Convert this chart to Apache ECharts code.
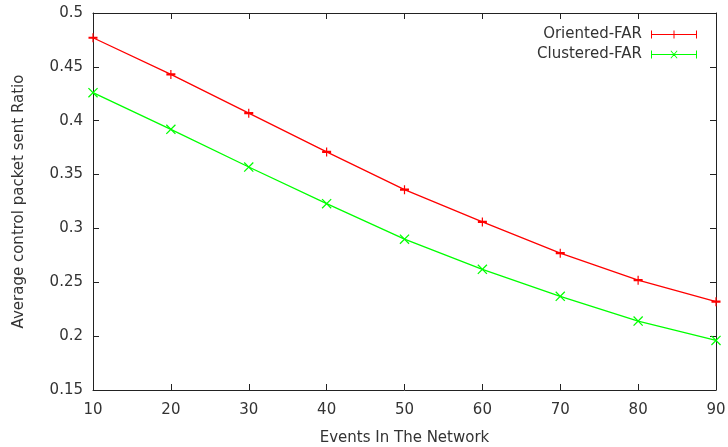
<!DOCTYPE html>
<html><head><meta charset="utf-8">
<script src="https://cdn.jsdelivr.net/npm/echarts@6/dist/echarts.min.js"></script>
<style>html,body{margin:0;padding:0;background:#fff}#c{width:728px;height:447px}</style>
</head><body><div id="c"></div>
<script>
const categories = [10, 20, 30, 40, 50, 60, 70, 80, 90];
const orientedFAR = [0.477, 0.443, 0.407, 0.371, 0.336, 0.306, 0.277, 0.252, 0.232];
const clusteredFAR = [0.426, 0.392, 0.357, 0.323, 0.290, 0.262, 0.237, 0.214, 0.196];
const seriesNames = ['Oriented-FAR', 'Clustered-FAR'];
const xTitle = 'Events In The Network';
const yTitle = 'Average control packet sent Ratio';

const plusPath = 'path://M0,3.4H9V5.6H0Z M3.9,0H5.1V9H3.9Z';
const crossPath = 'path://M0,0.8L0.8,0L9,8.2L8.2,9Z M8.2,0L9,0.8L0.8,9L0,8.2Z';
const legPlus = 'path://M0,0H1V8H0Z M0,3.5H46V4.5H0Z M45,0H46V8H45Z M22.5,0H23.5V8H22.5Z';
const legCross = 'path://M0,0H1V8H0Z M0,3.5H46V4.5H0Z M45,0H46V8H45Z M19.5,0.5L20.2,0L26.5,7.5L25.8,8Z M25.8,0L26.5,0.5L20.2,8L19.5,7.5Z';

const font = 'DejaVu Sans';
const fs = 15;
const axisCol = '#222';
const lblCol = '#333';
const chart = echarts.init(document.getElementById('c'));
const xBase = {
  type: 'value', min: 10, max: 90, interval: 10,
  axisLine: {show: true, lineStyle: {color: axisCol, width: 1}},
  axisTick: {show: true, inside: true, length: 6, lineStyle: {color: axisCol}},
  splitLine: {show: false}
};
const yBase = {
  type: 'value', min: 0.15, max: 0.5, interval: 0.05,
  axisLine: {show: true, lineStyle: {color: axisCol, width: 1}},
  axisTick: {show: true, inside: true, length: 6, lineStyle: {color: axisCol}},
  splitLine: {show: false}
};
chart.setOption({
  animation: false,
  backgroundColor: '#fff',
  textStyle: {fontFamily: font},
  grid: {left: 93, right: 12, top: 13, bottom: 57, containLabel: false, outerBoundsMode: 'none'},
  legend: {
    orient: 'vertical', right: 26, top: 22, align: 'right',
    itemWidth: 46, itemHeight: 8, itemGap: 5,
    textStyle: {fontFamily: font, fontSize: fs, color: lblCol, padding: [0, 4, 0, 0]},
    data: [
      {name: seriesNames[0], icon: legPlus},
      {name: seriesNames[1], icon: legCross}
    ]
  },
  xAxis: [
    Object.assign({}, xBase, {
      position: 'bottom', name: xTitle, nameLocation: 'middle', nameGap: 41,
      nameTextStyle: {fontFamily: font, fontSize: fs, color: lblCol},
      axisLabel: {fontFamily: font, fontSize: fs, color: lblCol, margin: 13}
    }),
    Object.assign({}, xBase, {position: 'top', axisLabel: {show: false}})
  ],
  yAxis: [
    Object.assign({}, yBase, {
      position: 'left', name: yTitle, nameLocation: 'middle', nameGap: 66,
      nameTextStyle: {fontFamily: font, fontSize: fs, color: lblCol},
      axisLabel: {fontFamily: font, fontSize: fs, color: lblCol, margin: 10,
        formatter: v => String(parseFloat(v.toFixed(2)))}
    }),
    Object.assign({}, yBase, {position: 'right', axisLabel: {show: false}})
  ],
  series: [
    {
      name: seriesNames[0], type: 'line',
      data: categories.map((c, i) => [c, orientedFAR[i]]),
      symbol: plusPath, symbolSize: 9,
      lineStyle: {color: '#ff0000', width: 1.3},
      itemStyle: {color: '#ff0000', borderWidth: 0}
    },
    {
      name: seriesNames[1], type: 'line',
      data: categories.map((c, i) => [c, clusteredFAR[i]]),
      symbol: crossPath, symbolSize: 10,
      lineStyle: {color: '#00ff00', width: 1.3},
      itemStyle: {color: '#00ff00', borderWidth: 0}
    }
  ]
});
</script></body></html>
